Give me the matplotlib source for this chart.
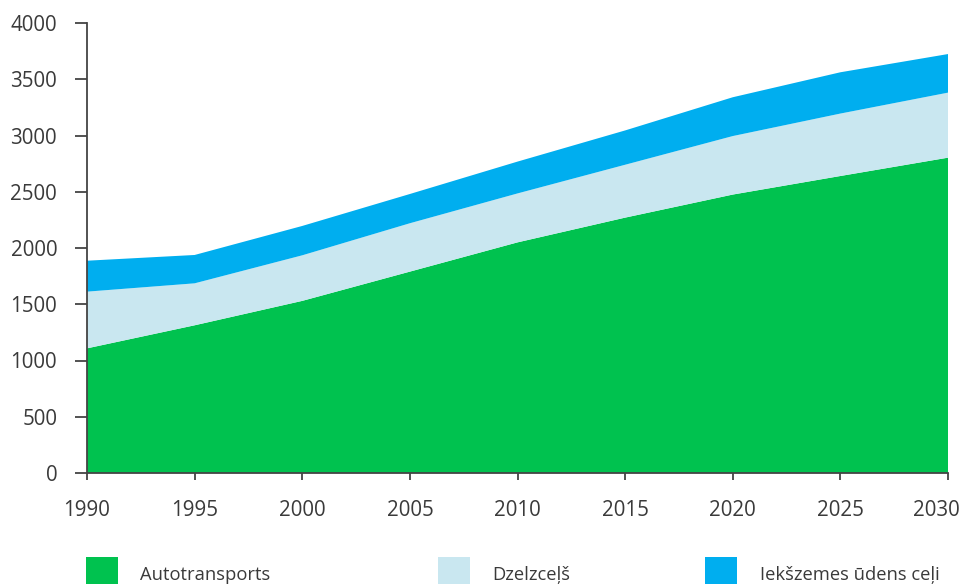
"""
Kravu pārvadājumu apjoms pa transporta veidiem, 1990-2030 (stacked area).
"""
import matplotlib
matplotlib.use("Agg")
import matplotlib.pyplot as plt
import matplotlib.transforms as mtransforms
from matplotlib.patches import Rectangle

OUT = "out.png"

years = [1990, 1995, 2000, 2005, 2010, 2015, 2020, 2025, 2030]
autotransports = [1108, 1313, 1530, 1790, 2050, 2270, 2475, 2640, 2803]
dzelzcels = [504, 373, 405, 430, 435, 470, 520, 555, 578]
udens_celi = [275, 252, 261, 260, 283, 305, 345, 367, 343]

labels = ["Autotransports", "Dzelzceļš", "Iekšzemes ūdens ceļi"]
colors = ["#00C24F", "#C9E7F0", "#00AEEF"]

y_ticks = [0, 500, 1000, 1500, 2000, 2500, 3000, 3500, 4000]
x_ticks = [1990, 1995, 2000, 2005, 2010, 2015, 2020, 2025, 2030]

TEXT_COLOR = "#3a3a3a"
AXIS_COLOR = "#444444"
FONT = ["Open Sans", "DejaVu Sans"]
TICK_FS = 14.8
LEGEND_FS = 13.2

W, H = 962, 584


def main():
    plt.rcParams["font.family"] = FONT
    fig = plt.figure(figsize=(W / 100, H / 100), dpi=100)
    ax = fig.add_axes([87 / W, (H - 473) / H, (948 - 87) / W, (473 - 23) / H])

    ax.stackplot(years, autotransports, dzelzcels, udens_celi,
                 colors=colors, linewidth=0)

    ax.set_xlim(1990, 2030)
    ax.set_ylim(0, 4000)
    ax.set_xticks(x_ticks)
    ax.set_yticks(y_ticks)

    for s in ("top", "right"):
        ax.spines[s].set_visible(False)
    for s in ("left", "bottom"):
        ax.spines[s].set_color(AXIS_COLOR)
        ax.spines[s].set_linewidth(1.3)
        ax.spines[s].set_zorder(5)

    ax.tick_params(axis="y", length=9, width=1.3, color=AXIS_COLOR,
                   labelsize=TICK_FS, labelcolor=TEXT_COLOR, pad=12.5)
    ax.tick_params(axis="x", length=5, width=1.3, color=AXIS_COLOR,
                   labelsize=TICK_FS, labelcolor=TEXT_COLOR, pad=14.5)

    # last x label is pushed inside the canvas, as in the original
    last = ax.get_xticklabels()[-1]
    last.set_horizontalalignment("right")
    last.set_transform(last.get_transform() +
                       mtransforms.ScaledTranslation(12 / 100, 0, fig.dpi_scale_trans))

    # legend drawn by hand along the bottom edge
    box_x = [86, 438, 705]
    text_x = [140, 492, 760]
    for bx, tx, lab, col in zip(box_x, text_x, labels, colors):
        fig.patches.append(Rectangle((bx / W, -0.02), 32 / W, (H - 557) / H + 0.02,
                                     transform=fig.transFigure, facecolor=col,
                                     edgecolor="none"))
        fig.text(tx / W, (H - 579.5) / H, lab, fontsize=LEGEND_FS, color=TEXT_COLOR,
                 va="baseline", ha="left")

    fig.savefig(OUT, dpi=100)
    print(f"[+] saved → {OUT}")


if __name__ == "__main__":
    main()
